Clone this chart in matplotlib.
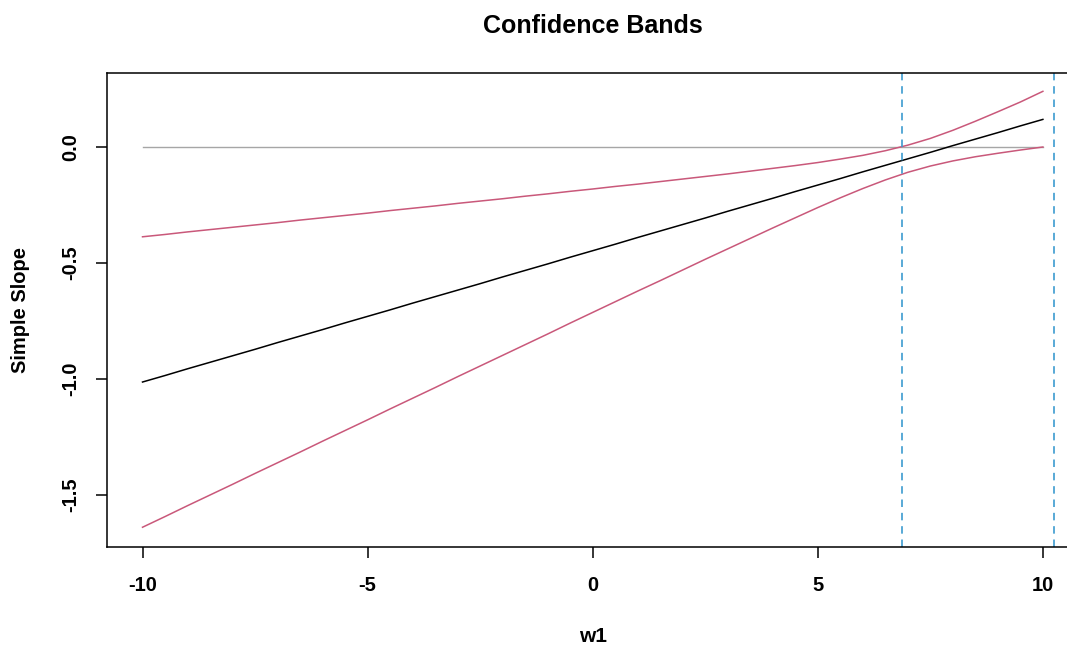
import matplotlib
matplotlib.use("Agg")
import matplotlib.pyplot as plt

plt.rcParams['font.family'] = ['Liberation Sans', 'DejaVu Sans']
plt.rcParams['font.weight'] = 'bold'

# moderator values
w1 = [-10.0, -9.5, -9.0, -8.5, -8.0, -7.5, -7.0, -6.5, -6.0, -5.5,
      -5.0, -4.5, -4.0, -3.5, -3.0, -2.5, -2.0, -1.5, -1.0, -0.5,
      0.0, 0.5, 1.0, 1.5, 2.0, 2.5, 3.0, 3.5, 4.0, 4.5,
      5.0, 5.5, 6.0, 6.5, 7.0, 7.5, 8.0, 8.5, 9.0, 9.5, 10.0]

# simple slope estimate
slope = [-1.013, -0.985, -0.956, -0.928, -0.900, -0.872, -0.843, -0.815, -0.787, -0.758,
         -0.730, -0.702, -0.673, -0.645, -0.617, -0.589, -0.560, -0.532, -0.504, -0.475,
         -0.447, -0.419, -0.390, -0.362, -0.334, -0.306, -0.277, -0.249, -0.221, -0.192,
         -0.164, -0.136, -0.107, -0.079, -0.051, -0.023, 0.006, 0.034, 0.062, 0.091, 0.119]

# upper / lower confidence band
upper = [-0.387, -0.377, -0.366, -0.356, -0.346, -0.336, -0.326, -0.315, -0.305, -0.295,
         -0.285, -0.274, -0.264, -0.254, -0.243, -0.233, -0.223, -0.212, -0.202, -0.191,
         -0.181, -0.170, -0.160, -0.149, -0.138, -0.127, -0.116, -0.104, -0.092, -0.080,
         -0.067, -0.052, -0.036, -0.016, 0.008, 0.037, 0.072, 0.111, 0.152, 0.194, 0.240]
lower = [-1.639, -1.593, -1.546, -1.500, -1.454, -1.407, -1.361, -1.315, -1.268, -1.222,
         -1.176, -1.129, -1.083, -1.037, -0.990, -0.944, -0.898, -0.852, -0.806, -0.759,
         -0.713, -0.667, -0.621, -0.576, -0.530, -0.484, -0.439, -0.394, -0.349, -0.305,
         -0.261, -0.219, -0.179, -0.142, -0.109, -0.082, -0.060, -0.042, -0.027, -0.013, 0.000]

# Johnson-Neyman boundaries
jn_points = [6.86, 10.25]

xticks = [-10, -5, 0, 5, 10]
yticks = [-1.5, -1.0, -0.5, 0.0]
ytick_labels = ['-1.5', '-1.0', '-0.5', '0.0']

W, H = 1067, 645
fig = plt.figure(figsize=(W / 100, H / 100), dpi=100)

left, right, top, bottom = 106.5, 1078.9, 73, 546.5
ax = fig.add_axes([left / W, 1 - bottom / H, (right - left) / W, (bottom - top) / H])

ax.plot([w1[0], w1[-1]], [0, 0], color='#A6A6A6', lw=1.0)
ax.plot(w1, slope, color='black', lw=1.1)
ax.plot(w1, upper, color='#C9587A', lw=1.1)
ax.plot(w1, lower, color='#C9587A', lw=1.1)
for p in jn_points:
    ax.axvline(p, color='#3C9BD0', lw=1.2, ls=(0, (4.5, 3.5)))

ax.set_xlim(-10.8, 10.8)
ax.set_ylim(-1.722, 0.319)

for s in ax.spines.values():
    s.set_linewidth(1.1)

ax.set_xticks(xticks)
ax.set_xticklabels([str(t) for t in xticks], fontsize=14.5, fontweight='bold', va='center')
ax.set_yticks(yticks)
ax.set_yticklabels(ytick_labels, fontsize=14.5, fontweight='bold', rotation=90,
                   va='center', ha='center')
ax.tick_params(axis='x', length=8, width=1.1, pad=19.8)
ax.tick_params(axis='y', length=8, width=1.1, pad=17.6)

cx = (left + right) / 2 / W
fig.text(cx, 1 - 26 / H, 'Confidence Bands', ha='center', va='center',
         fontsize=18, fontweight='bold')
fig.text(cx, 1 - 636 / H, 'w1', ha='center', va='center', fontsize=15, fontweight='bold')
fig.text(21 / W, 1 - (top + bottom) / 2 / H, 'Simple Slope', ha='center', va='center',
         rotation=90, fontsize=14.5, fontweight='bold')

fig.savefig('out.png', dpi=100)
